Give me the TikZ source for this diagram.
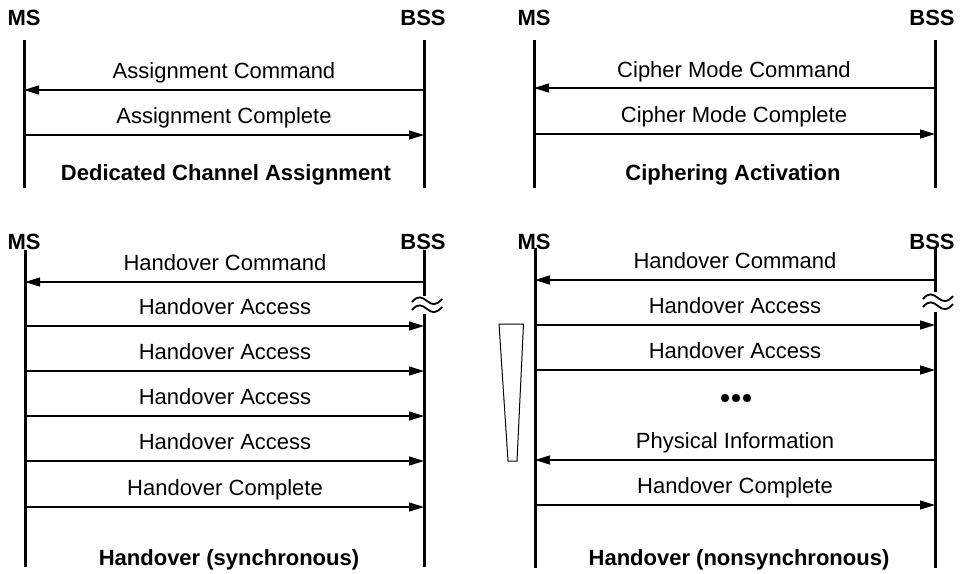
\documentclass[tikz,border=0pt]{standalone}
\usepackage{fontspec}
\setmainfont{Liberation Sans}
\usetikzlibrary{arrows.meta}
\begin{document}
\begin{tikzpicture}[x=1pt,y=-1pt,
  life/.style={line width=3pt},
  msg/.style={line width=1.4pt,-{Triangle[length=15pt,width=9pt]}},
  lbl/.style={anchor=base,inner sep=0pt,font=\fontsize{22}{25}\selectfont},
  ttl/.style={anchor=base,inner sep=0pt,font=\fontsize{22}{25}\selectfont\bfseries},
  squig/.style={line width=1.8pt}]
\useasboundingbox (0,0) rectangle (963,573);
% ---------- panel 1 ----------
\coordinate (p1mt) at (24,40);  \coordinate (p1mb) at (24,188);
\coordinate (p1bt) at (424,40); \coordinate (p1bb) at (424,188);
\node[ttl] (p1ms) at (24,25) {MS};
\node[ttl] (p1bss) at (423,25) {BSS};
\draw[life] (p1mt) -- (p1mb);
\draw[life] (p1bt) -- (p1bb);
\coordinate (p1a1) at (24,90);  \coordinate (p1b1) at (424,90);
\coordinate (p1a2) at (24,135); \coordinate (p1b2) at (424,135);
\draw[msg] (p1b1) -- (p1a1);
\draw[msg] (p1a2) -- (p1b2);
\node[lbl] (p1t1) at (224,78) {Assignment Command};
\node[lbl] (p1t2) at (224,123) {Assignment Complete};
\node[ttl] (p1title) at (226,180) {Dedicated Channel Assignment};
% ---------- panel 2 ----------
\coordinate (p2mt) at (534,40);  \coordinate (p2mb) at (534,188);
\coordinate (p2bt) at (935,40);  \coordinate (p2bb) at (935,188);
\node[ttl] (p2ms) at (534,25) {MS};
\node[ttl] (p2bss) at (932,25) {BSS};
\draw[life] (p2mt) -- (p2mb);
\draw[life] (p2bt) -- (p2bb);
\coordinate (p2a1) at (534,88);  \coordinate (p2b1) at (935,88);
\coordinate (p2a2) at (534,134); \coordinate (p2b2) at (935,134);
\draw[msg] (p2b1) -- (p2a1);
\draw[msg] (p2a2) -- (p2b2);
\node[lbl] (p2t1) at (734,77) {Cipher Mode Command};
\node[lbl] (p2t2) at (734,122) {Cipher Mode Complete};
\node[ttl] (p2title) at (733,180) {Ciphering Activation};
% ---------- panel 3 ----------
\coordinate (p3mt) at (25,250);  \coordinate (p3mb) at (25,567);
\coordinate (p3bt) at (424,250); \coordinate (p3bb) at (424,567);
\coordinate (p3g1) at (424,296); \coordinate (p3g2) at (424,314);
\node[ttl] (p3ms) at (24,249) {MS};
\node[ttl] (p3bss) at (423,249) {BSS};
\draw[life] (p3mt) -- (p3mb);
\draw[life] (p3bt) -- (p3g1);
\draw[life] (p3g2) -- (p3bb);
\draw[squig] (412,302) .. controls (418,295) and (422,297) .. (427,301) .. controls (432,305) and (436,306) .. (442,299);
\draw[squig] (412,310) .. controls (418,303) and (422,305) .. (427,309) .. controls (432,313) and (436,314) .. (442,307);
\foreach \y [count=\i] in {326,371,416,461,507}{
  \coordinate (p3a\i) at (25,\y); \coordinate (p3b\i) at (424,\y);
  \draw[msg] (p3a\i) -- (p3b\i);
}
\coordinate (p3c0) at (25,282); \coordinate (p3d0) at (424,282);
\draw[msg] (p3d0) -- (p3c0);
\node[lbl] (p3t0) at (225,270) {Handover Command};
\node[lbl] (p3t1) at (225,314) {Handover Access};
\node[lbl] (p3t2) at (225,359) {Handover Access};
\node[lbl] (p3t3) at (225,404) {Handover Access};
\node[lbl] (p3t4) at (225,449) {Handover Access};
\node[lbl] (p3t5) at (225,495) {Handover Complete};
\node[ttl] (p3title) at (229,565) {Handover (synchronous)};
% ---------- panel 4 ----------
\coordinate (p4mt) at (535,248);  \coordinate (p4mb) at (535,568);
\coordinate (p4bt) at (935,248);  \coordinate (p4bb) at (935,568);
\coordinate (p4g1) at (935,292);  \coordinate (p4g2) at (935,312);
\node[ttl] (p4ms) at (534,249) {MS};
\node[ttl] (p4bss) at (932,249) {BSS};
\draw[life] (p4mt) -- (p4mb);
\draw[life] (p4bt) -- (p4g1);
\draw[life] (p4g2) -- (p4bb);
\draw[squig] (923,299) .. controls (929,292) and (933,294) .. (938,298) .. controls (943,302) and (947,303) .. (953,296);
\draw[squig] (923,307) .. controls (929,300) and (933,302) .. (938,306) .. controls (943,310) and (947,311) .. (953,304);
\coordinate (p4a0) at (535,280); \coordinate (p4b0) at (935,280);
\coordinate (p4a1) at (535,325); \coordinate (p4b1) at (935,325);
\coordinate (p4a2) at (535,370); \coordinate (p4b2) at (935,370);
\coordinate (p4a3) at (535,460); \coordinate (p4b3) at (935,460);
\coordinate (p4a4) at (535,505); \coordinate (p4b4) at (935,505);
\draw[msg] (p4b0) -- (p4a0);
\draw[msg] (p4a1) -- (p4b1);
\draw[msg] (p4a2) -- (p4b2);
\draw[msg] (p4b3) -- (p4a3);
\draw[msg] (p4a4) -- (p4b4);
\node[lbl] (p4t0) at (735,268) {Handover Command};
\node[lbl] (p4t1) at (735,313) {Handover Access};
\node[lbl] (p4t2) at (735,358) {Handover Access};
\node[lbl] (p4t3) at (735,448) {Physical Information};
\node[lbl] (p4t4) at (735,493) {Handover Complete};
\fill (725,398) circle (4.2) (736,398) circle (4.2) (747,398) circle (4.2);
\draw[line width=1pt] (499,324) -- (523.5,324) -- (517,461) -- (508,461) -- cycle;
\node[ttl] (p4title) at (739,565) {Handover (nonsynchronous)};
\end{tikzpicture}
\end{document}
